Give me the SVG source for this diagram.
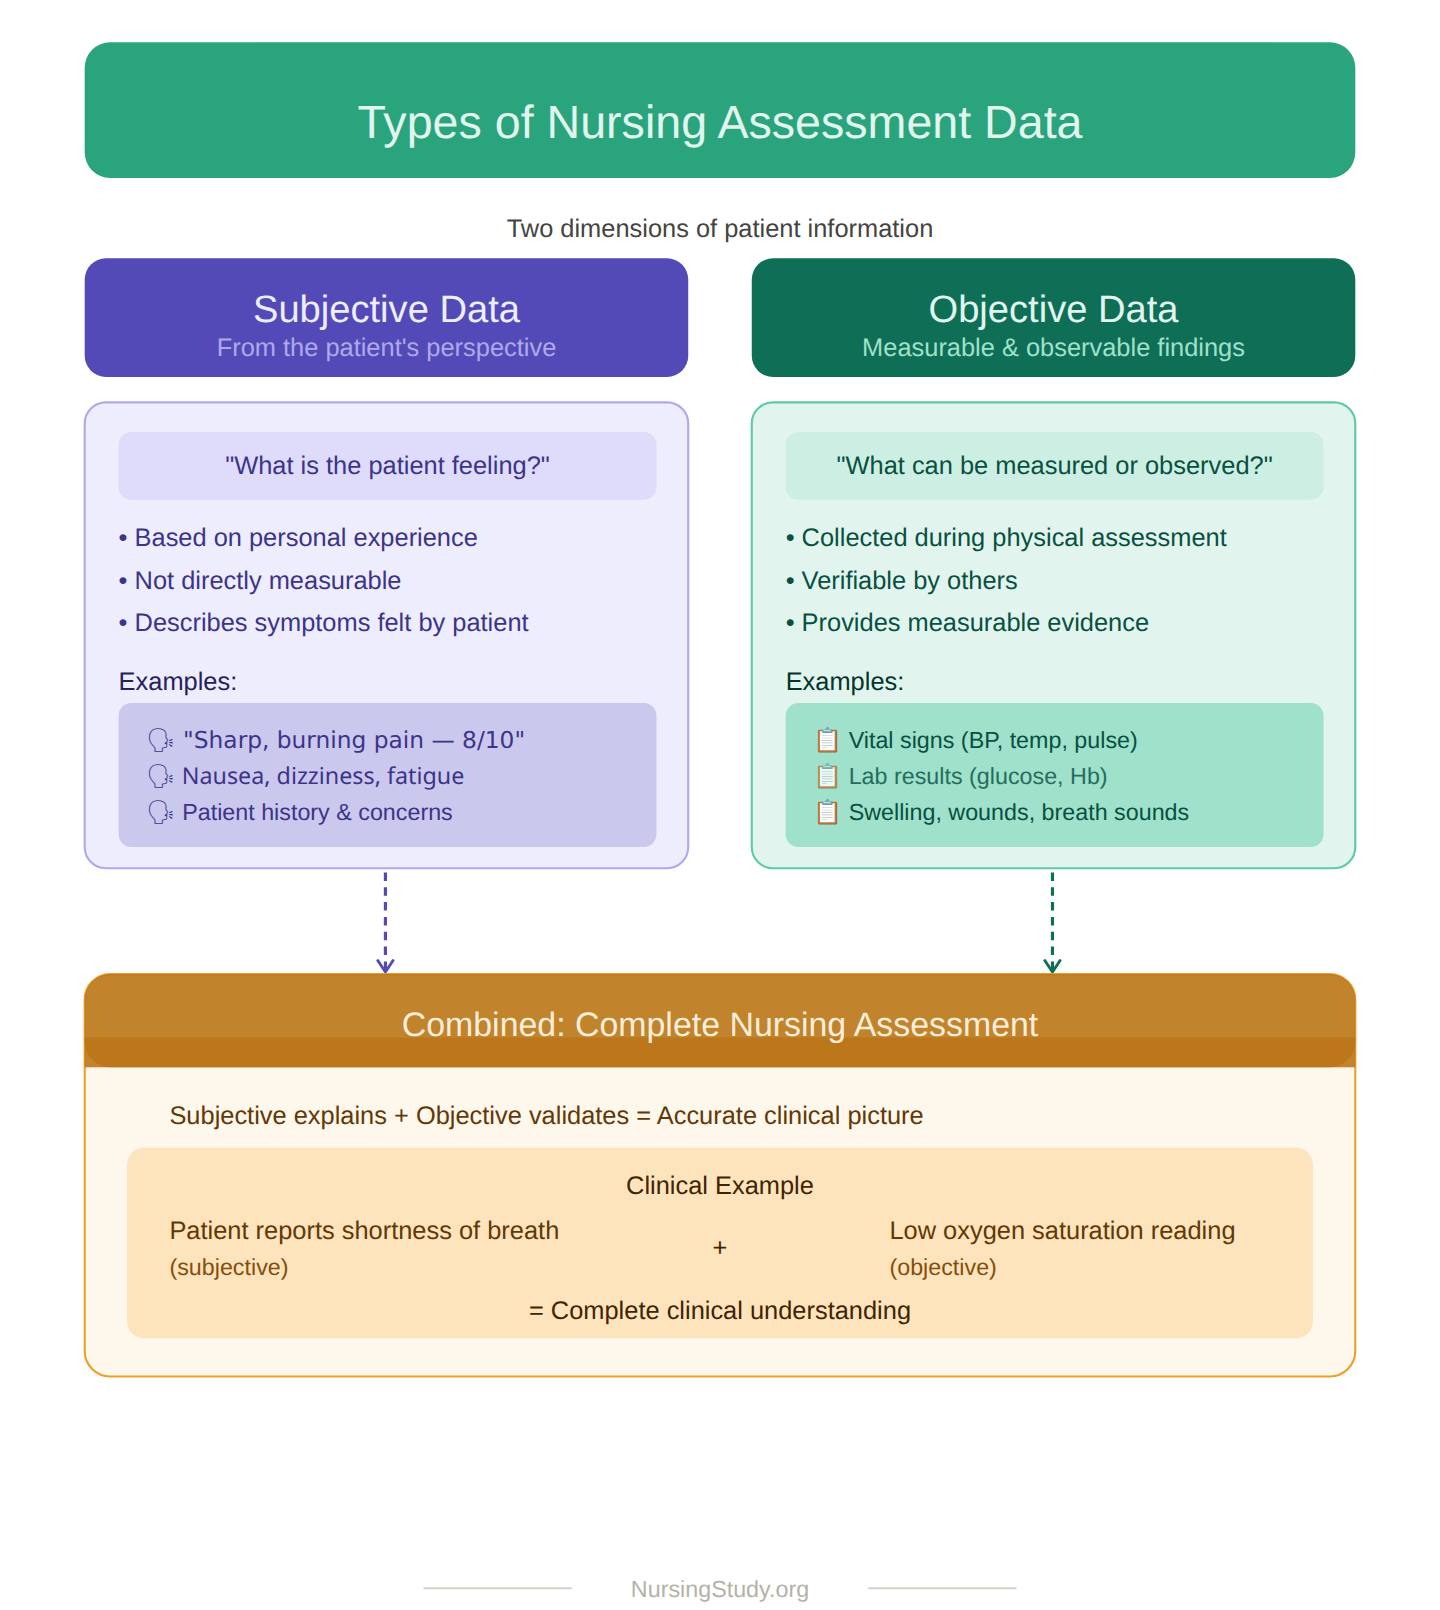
<svg xmlns="http://www.w3.org/2000/svg" width="1440" height="1610" viewBox="0 0 1440 1610">
<style>
text{font-family:"Liberation Sans",Arial,sans-serif;text-rendering:geometricPrecision}
.m{text-anchor:middle}
.t12{font-size:12px}
.t11{font-size:11px}
.p{fill:#3C3489}
.g{fill:#04342C}
.gb{fill:#085041}
.a{fill:#633806}
.ad{fill:#412402}
.conn{stroke-width:1.5;stroke-dasharray:4 3;fill:none}
</style>
<defs>
<marker id="ap" viewBox="0 0 10 10" refX="8" refY="5" markerWidth="6" markerHeight="6" orient="auto-start-reverse"><path d="M2 1L8 5L2 9" fill="none" stroke="#534AB7" stroke-width="1.5" stroke-linecap="round" stroke-linejoin="round"/></marker>
<marker id="at" viewBox="0 0 10 10" refX="8" refY="5" markerWidth="6" markerHeight="6" orient="auto-start-reverse"><path d="M2 1L8 5L2 9" fill="none" stroke="#0F6E56" stroke-width="1.5" stroke-linecap="round" stroke-linejoin="round"/></marker>
</defs>
<rect width="1440" height="1610" fill="#fff"/>
<g transform="scale(2.11765)">
<g id="title">
<rect x="40" y="20" width="600" height="64" rx="12" fill="#1D9E75" opacity=".94"/>
<text x="340" y="65" class="m" font-size="22" fill="#E1F5EE">Types of Nursing Assessment Data</text>
</g>
<g id="subtitle"><text x="340" y="112" class="m t12" fill="#444441">Two dimensions of patient information</text></g>
<g id="subjective-header">
<rect x="40" y="122" width="285" height="56" rx="10" fill="#534AB7"/>
<text x="182.5" y="152" class="m" font-size="18" fill="#EEEDFE">Subjective Data</text>
<text x="182.5" y="168" class="m t12" fill="#AFA9EC">From the patient's perspective</text>
</g>
<g id="objective-header">
<rect x="355" y="122" width="285" height="56" rx="10" fill="#0F6E56"/>
<text x="497.5" y="152" class="m" font-size="18" fill="#E1F5EE">Objective Data</text>
<text x="497.5" y="168" class="m t12" fill="#9FE1CB">Measurable &amp; observable findings</text>
</g>
<g id="subjective-panel">
<rect x="40" y="190" width="285" height="220" rx="10" fill="#EEEDFE" stroke="#AFA9EC"/>
<rect x="56" y="204" width="254" height="32" rx="6" fill="#CECBF6" opacity=".5"/>
<text x="183" y="224" class="m t12 p">"What is the patient feeling?"</text>
<text x="56" y="258" class="t12 p">• Based on personal experience</text>
<text x="56" y="278" class="t12 p">• Not directly measurable</text>
<text x="56" y="298" class="t12 p">• Describes symptoms felt by patient</text>
<text x="56" y="326" class="t12" fill="#26215C">Examples:</text>
<rect x="56" y="332" width="254" height="68" rx="6" fill="#CBC8EE"/>
<text x="69" y="353" class="t11 p" style="font-family:'DejaVu Sans'">🗣 "Sharp, burning pain — 8/10"</text>
<text x="69" y="370" class="t11 p" style="font-family:'Noto Sans'">🗣 Nausea, dizziness, fatigue</text>
<text x="69" y="387" class="t11 p" style="font-family:sans-serif">🗣 Patient history &amp; concerns</text>
</g>
<g id="objective-panel">
<rect x="355" y="190" width="285" height="220" rx="10" fill="#E1F5EE" stroke="#5DCAA5"/>
<rect x="371" y="204" width="254" height="32" rx="6" fill="#9FE1CB" opacity=".3"/>
<text x="498" y="224" class="m t12 gb">"What can be measured or observed?"</text>
<text x="371" y="258" class="t12 gb">• Collected during physical assessment</text>
<text x="371" y="278" class="t12 gb">• Verifiable by others</text>
<text x="371" y="298" class="t12 gb">• Provides measurable evidence</text>
<text x="371" y="326" class="t12 g">Examples:</text>
<rect x="371" y="332" width="254" height="68" rx="6" fill="#9FE1CB"/>
<text x="384" y="353" class="t11 gb">📋 Vital signs (BP, temp, pulse)</text>
<text x="384" y="370" class="t11 gb" opacity=".8">📋 Lab results (glucose, Hb)</text>
<text x="384" y="387" class="t11 gb">📋 Swelling, wounds, breath sounds</text>
</g>
<g id="connectors">
<line class="conn" x1="182" y1="412" x2="182" y2="459" stroke="#534AB7" marker-end="url(#ap)"/>
<line class="conn" x1="497" y1="412" x2="497" y2="459" stroke="#0F6E56" marker-end="url(#at)"/>
</g>
<g id="combined">
<rect x="40" y="460" width="600" height="190" rx="12" fill="#FEF7EC" stroke="#EF9F27"/>
<rect x="40" y="460" width="600" height="44" rx="12" fill="#BA7517" opacity=".9"/>
<rect x="40" y="490" width="600" height="14" fill="#BA7517" opacity=".9"/>
<text x="340" y="489" class="m" font-size="16" fill="#FAEEDA">Combined: Complete Nursing Assessment</text>
<text x="80" y="531" class="t12 a">Subjective explains + Objective validates = Accurate clinical picture</text>
<rect x="60" y="542" width="560" height="90" rx="8" fill="#FDE4BC"/>
<text x="340" y="564" class="m t12 ad">Clinical Example</text>
<text x="80" y="585" class="t12 a">Patient reports shortness of breath</text>
<text x="80" y="602" class="t11" fill="#854F0B">(subjective)</text>
<text x="340" y="593" class="m t12 ad">+</text>
<text x="420" y="585" class="t12 a">Low oxygen saturation reading</text>
<text x="420" y="602" class="t11" fill="#854F0B">(objective)</text>
<text x="340" y="623" class="m t12 ad">= Complete clinical understanding</text>
</g>
<g id="footer">
<line x1="200" y1="750" x2="270" y2="750" stroke="#D3D1C7"/>
<line x1="410" y1="750" x2="480" y2="750" stroke="#D3D1C7"/>
<text x="340" y="754" class="m t11" fill="#B4B2A9">NursingStudy.org</text>
</g>
</g>
</svg>
